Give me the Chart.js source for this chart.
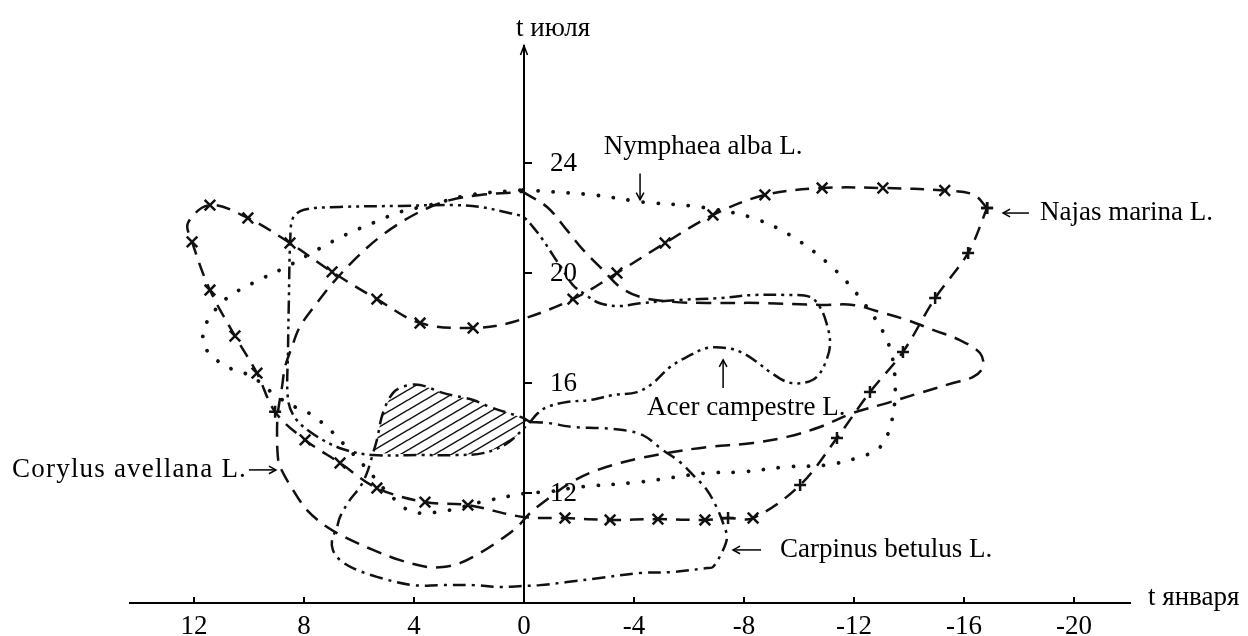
<!DOCTYPE html>
<html>
<head>
<meta charset="utf-8">
<script src="https://cdn.jsdelivr.net/npm/chart.js@4.4.1/dist/chart.umd.min.js"></script>
<style>
html,body{margin:0;padding:0;background:#fff;}
#c{display:block;}
</style>
</head>
<body>
<canvas id="c" width="1248" height="636" style="width:1248px;height:636px"></canvas>
<script>
// ---------- tick values and labels ----------
const xTicks = [12, 8, 4, 0, -4, -8, -12, -16, -20];
const xTickLabels = ['12', '8', '4', '0', '-4', '-8', '-12', '-16', '-20'];
const yTicks = [12, 16, 20, 24];
const yTickLabels = ['12', '16', '20', '24'];

// ---------- Najas marina L. (dashed with x markers) ----------
const najasX = [-16.84,-16.35,-15.3,-13.05,-10.84,-8.76,-6.87,-5.13,-3.38,-1.78,0.4,1.85,3.78,5.35,6.98,8.51,10.04,11.42,12.22,12.07,11.42,10.51,9.71,9.05,7.96,6.69,5.35,3.6,2.04,0.04,-1.49,-3.13,-4.87,-6.58,-7.42,-8.33,-10.04,-11.38,-12.58,-13.78,-14.95,-16.15,-16.84];
const najasY = [22.36,22.85,23.0,23.09,23.09,22.84,22.11,21.09,20.0,19.05,18.22,18.0,18.18,19.05,20.04,21.09,22.0,22.47,21.82,21.13,19.38,17.71,16.36,14.95,13.93,13.09,12.18,11.67,11.56,11.13,11.09,11.02,11.05,11.02,11.09,11.09,12.29,14.0,15.67,17.13,19.09,20.73,22.36];

// ---------- Nymphaea alba L. (dotted) ----------
const nymX = [0.04,-2.51,-4.33,-6.4,-8.33,-9.78,-11.24,-12.33,-13.2,-13.49,-13.38,-12.95,-12.22,-11.02,-9.56,-7.85,-6.65,-4.22,-2.04,-0.84,-0.11,1.71,2.69,4.04,4.87,5.78,6.62,7.05,7.71,8.33,9.05,9.71,10.25,10.8,11.31,11.6,11.67,11.42,10.8,9.85,8.51,7.53,6.51,5.42,4.51,3.42,1.96,0.04];
const nymY = [23.02,22.84,22.58,22.4,22.0,21.31,20.18,18.95,17.56,16.18,14.65,13.67,13.31,13.02,12.95,12.76,12.73,12.4,12.22,12.04,12.0,11.64,11.38,11.31,11.93,12.95,13.85,14.29,14.84,15.13,15.56,16.11,16.4,16.58,16.95,17.31,17.82,18.4,19.09,19.64,20.29,20.84,21.38,21.85,22.22,22.47,22.84,23.02];

// ---------- Corylus avellana L. (dashed) ----------
const corX = [0.04,-0.84,-1.56,-2.15,-2.87,-3.49,-4.22,-5.42,-6.65,-8.58,-10.76,-11.96,-12.95,-13.93,-14.87,-15.85,-16.58,-16.69,-16.33,-15.6,-14.4,-13.2,-11.96,-10.76,-9.56,-8.33,-6.65,-5.42,-4.22,-3.24,-2.4,-1.67,-0.95,-0.22,0.25,0.87,1.6,2.33,2.95,3.53,4.51,5.49,6.44,7.16,7.89,8.4,8.87,8.95,8.98,8.95,8.8,8.69,8.44,8.15,7.53,6.95,6.07,5.24,4.33,3.42,2.69,1.6,0.04];
const corY = [22.95,22.4,21.56,20.84,20.11,19.49,19.13,18.95,18.91,18.91,18.84,18.84,18.58,18.29,17.93,17.56,17.09,16.58,16.22,16.0,15.64,15.27,14.91,14.4,14.04,13.82,13.67,13.49,13.27,13.02,12.73,12.36,11.85,11.27,10.76,10.29,9.82,9.45,9.31,9.31,9.56,9.93,10.36,10.76,11.38,12.11,12.95,13.31,14.18,14.91,15.85,16.58,17.31,18.04,18.91,19.64,20.58,21.31,21.93,22.4,22.65,22.84,22.95];

// ---------- Acer campestre L. (dash-dot-dot) ----------
const acerX = [-0.22,-0.5,-0.84,-1.56,-2.4,-3.24,-4.11,-4.69,-5.31,-5.93,-6.65,-7.38,-7.96,-8.47,-8.95,-9.56,-10.15,-10.65,-11.0,-11.13,-11.0,-10.76,-10.4,-9.56,-8.33,-7.13,-5.67,-4.22,-3.49,-2.76,-2.15,-1.78,-1.42,-1.05,-0.69,-0.33,0.04,0.62,1.6,2.58,4.5,6.7,8.0,8.4,8.5,8.55,8.58,8.58,8.3,7.6,6.6,5.5,3.78,2.44,1.49,0.62,-0.22];
const acerY = [14.58,14.9,15.13,15.31,15.38,15.56,15.67,16.0,16.58,16.95,17.27,17.27,17.09,16.76,16.4,16.04,16.0,16.22,16.84,17.45,18.18,18.76,19.13,19.2,19.2,19.09,19.02,18.9,18.8,18.9,19.27,19.56,20.1,20.65,21.2,21.67,22.04,22.2,22.4,22.47,22.44,22.4,22.3,22.0,21.2,19.0,17.2,15.4,14.7,14.1,13.6,13.38,13.38,13.38,13.45,13.8,14.58];

// ---------- Carpinus betulus L. (dash-dot) ----------
const carpX = [-0.22,-0.84,-1.78,-2.76,-3.6,-4.33,-5.05,-5.67,-6.15,-6.65,-7.02,-7.24,-7.38,-7.24,-6.87,-6.65,-5.42,-4.22,-2.76,-1.56,-0.58,0.04,0.87,1.85,3.05,4.04,5.35,6.22,6.69,6.95,6.98,6.8,6.69,6.33,5.96,5.71,5.49,5.35,5.13,4.76,4.33,3.78,2.95,1.85,1.24,0.04,-0.22];
const carpY = [14.58,14.55,14.4,14.36,14.29,14.1,13.56,13.13,12.65,12.11,11.45,10.9,10.4,9.93,9.31,9.27,9.13,9.09,8.91,8.76,8.65,8.62,8.58,8.65,8.65,8.65,8.95,9.27,9.56,9.93,10.29,10.76,11.13,11.75,12.22,12.73,13.45,13.93,14.91,15.64,15.89,15.93,15.64,15.38,15.13,14.73,14.58];

// ---------- hatched common region ----------
const hatchX = [5.49,5.35,5.13,4.76,4.33,3.78,2.95,1.85,1.24,0.04,-0.22,0.62,1.49,2.44,3.78,5.49];
const hatchY = [13.45,13.93,14.91,15.64,15.89,15.93,15.64,15.38,15.13,14.73,14.58,13.8,13.45,13.38,13.38,13.45];

// ---------- build ----------
const FONT = '"Liberation Serif", "Times New Roman", serif';
Chart.defaults.font.family = FONT;
Chart.defaults.font.size = 27;
Chart.defaults.color = '#000';

const pts = (xs, ys) => xs.map((v, i) => ({x: v, y: ys[i]}));

const canvas = document.getElementById('c');
const ctx2d = canvas.getContext('2d');

const hatchPattern = (() => {
  const w = 17, h = 10;
  const c = document.createElement('canvas');
  c.width = w; c.height = h;
  const g = c.getContext('2d');
  g.strokeStyle = '#111';
  g.lineWidth = 1.5;
  for (const dy of [-h, 0, h]) {
    g.beginPath(); g.moveTo(0, h + dy); g.lineTo(w, dy); g.stroke();
  }
  return ctx2d.createPattern(c, 'repeat');
})();

const noMarker = new Set([1, 10, 18, 29]);
const plusMarker = new Set([0, 23, 34, 36, 37, 38, 39, 40, 41, 42]);

const lineBase = {showLine: true, borderColor: '#111', borderWidth: 2.5, pointRadius: 0, tension: 0.35, fill: false};

const notes = [
  {t: 't июля', x: 0.29, y: 28.87, a: 'left'},
  {t: 'Nymphaea alba L.', x: -2.9, y: 24.58, a: 'left'},
  {t: 'Najas marina L.', x: -18.76, y: 22.18, a: 'left'},
  {t: 'Acer campestre L.', x: -4.47, y: 15.09, a: 'left'},
  {t: 'Corylus avellana L.', x: 10.07, y: 12.84, a: 'right', sp: '1.2px'},
  {t: 'Carpinus betulus L.', x: -9.31, y: 9.93, a: 'left'},
  {t: 't января', x: -22.69, y: 8.2, a: 'left'}
];
// arrows: [tail x, tail y, tip x, tip y] in data units
const arrows = [
  [-4.22, 23.62, -4.22, 22.67],
  [-18.36, 22.18, -17.42, 22.18],
  [-7.24, 15.82, -7.24, 16.84],
  [10.0, 12.84, 9.02, 12.84],
  [-8.62, 9.93, -7.6, 9.93]
];

const decor = {
  id: 'decor',
  afterDraw(chart) {
    const {ctx, chartArea, scales: {x, y}} = chart;
    const X = v => x.getPixelForValue(v);
    const Y = v => y.getPixelForValue(v);
    const x0 = X(0);
    ctx.save();
    ctx.strokeStyle = '#000';
    ctx.fillStyle = '#000';
    ctx.lineWidth = 2;
    xTicks.forEach(v => {
      const px = X(v);
      ctx.beginPath(); ctx.moveTo(px, chartArea.bottom); ctx.lineTo(px, chartArea.bottom - 6); ctx.stroke();
    });
    yTicks.forEach(v => {
      const py = Y(v);
      ctx.beginPath(); ctx.moveTo(x0, py); ctx.lineTo(x0 + 8, py); ctx.stroke();
    });
    ctx.lineWidth = 1.6;
    ctx.beginPath();
    ctx.moveTo(x0 - 3.5, chartArea.top + 9); ctx.lineTo(x0, chartArea.top); ctx.lineTo(x0 + 3.5, chartArea.top + 9);
    ctx.stroke();
    ctx.lineWidth = 1.5;
    arrows.forEach(([ax, ay, bx, by]) => {
      const x1 = X(ax), y1 = Y(ay), x2 = X(bx), y2 = Y(by);
      const ang = Math.atan2(y2 - y1, x2 - x1);
      ctx.beginPath(); ctx.moveTo(x1, y1); ctx.lineTo(x2, y2); ctx.stroke();
      ctx.beginPath();
      ctx.moveTo(x2 - 8 * Math.cos(ang - 0.5), y2 - 8 * Math.sin(ang - 0.5));
      ctx.lineTo(x2, y2);
      ctx.lineTo(x2 - 8 * Math.cos(ang + 0.5), y2 - 8 * Math.sin(ang + 0.5));
      ctx.stroke();
    });
    ctx.font = '27px ' + FONT;
    ctx.textBaseline = 'middle';
    ctx.textAlign = 'left';
    yTicks.forEach((v, i) => ctx.fillText(yTickLabels[i], x0 + 26, Y(v) + 1));
    notes.forEach(n => {
      ctx.textAlign = n.a;
      ctx.letterSpacing = n.sp || '0px';
      ctx.fillText(n.t, X(n.x), Y(n.y));
    });
    ctx.restore();
  }
};

new Chart(canvas, {
  type: 'scatter',
  data: {
    datasets: [
      {...lineBase, label: 'Najas marina L.', data: pts(najasX, najasY), borderDash: [14, 9],
        pointRadius: c => noMarker.has(c.dataIndex) ? 0 : (plusMarker.has(c.dataIndex) ? 6 : 7.5),
        pointStyle: c => plusMarker.has(c.dataIndex) ? 'cross' : 'crossRot',
        pointBorderColor: '#111', pointBackgroundColor: '#111', pointBorderWidth: 2.5},
      {...lineBase, label: 'Nymphaea alba L.', data: pts(nymX, nymY), borderDash: [0.1, 15], borderCapStyle: 'round', borderWidth: 3.8},
      {...lineBase, label: 'Corylus avellana L.', data: pts(corX, corY), borderDash: [15, 9]},
      {...lineBase, label: 'Acer campestre L.', data: pts(acerX, acerY), borderDash: [13, 5, 3, 5, 3, 5]},
      {...lineBase, label: 'Carpinus betulus L.', data: pts(carpX, carpY), borderDash: [13, 6, 3, 6]},
      {label: 'common area', data: pts(hatchX, hatchY), showLine: true, borderColor: 'rgba(0,0,0,0)', borderWidth: 1,
        pointRadius: 0, tension: 0.2, fill: 'shape', backgroundColor: hatchPattern, order: 10}
    ]
  },
  options: {
    responsive: false,
    devicePixelRatio: 1,
    animation: false,
    events: [],
    layout: {padding: {left: 130, right: 118, top: 46, bottom: 0}},
    plugins: {legend: {display: false}, tooltip: {enabled: false}, title: {display: false}},
    scales: {
      x: {
        type: 'linear', position: 'bottom', reverse: true, min: -22.036, max: 14.327,
        afterBuildTicks: s => { s.ticks = xTicks.map(v => ({value: v})); },
        afterFit: s => { s.height = 33; },
        grid: {display: false, drawTicks: false},
        border: {display: true, color: '#000', width: 2},
        ticks: {autoSkip: false, maxRotation: 0, padding: 8, color: '#000',
          callback: v => { const i = xTicks.indexOf(v); return i >= 0 ? xTickLabels[i] : ''; }}
      },
      y: {
        type: 'linear', position: {x: 0}, min: 8, max: 28.2545,
        afterBuildTicks: s => { s.ticks = yTicks.map(v => ({value: v})); },
        grid: {display: false, drawTicks: false},
        border: {display: true, color: '#000', width: 2},
        ticks: {display: false}
      }
    }
  },
  plugins: [decor]
});
</script>
</body>
</html>
